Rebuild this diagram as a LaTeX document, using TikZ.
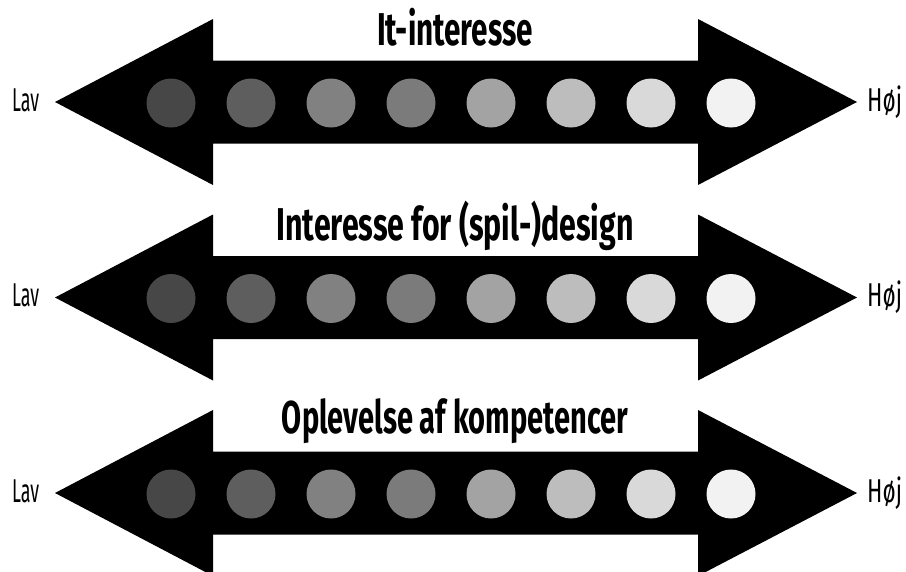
\documentclass[tikz,border=0pt]{standalone}
\usepackage{fontspec}
\usepackage{graphicx}
\setmainfont{Fira Sans}

% condensed text: natural height, fixed width
\newcommand{\narrowtext}[2]{\resizebox{#1}{\height}{#2}}

\definecolor{dotA}{HTML}{474747}
\definecolor{dotB}{HTML}{5E5E5E}
\definecolor{dotC}{HTML}{818181}
\definecolor{dotD}{HTML}{7B7B7B}
\definecolor{dotE}{HTML}{A3A3A3}
\definecolor{dotF}{HTML}{BDBDBD}
\definecolor{dotG}{HTML}{D9D9D9}
\definecolor{dotH}{HTML}{F2F2F2}

\tikzset{
  bigarrow/.style={fill=black, draw=none},
  dot/.style={circle, draw=none, minimum size=49pt, inner sep=0pt},
  heading/.style={font=\fontsize{46}{46}\bfseries\selectfont, inner sep=0pt, anchor=base},
  endlabel/.style={font=\fontsize{33}{33}\selectfont, inner sep=0pt, anchor=base west},
}

\begin{document}
\begin{tikzpicture}[x=1pt, y=-1pt]
  \useasboundingbox (0,0) rectangle (906,571);
  \clip (0,0) rectangle (906,571);
  \fill[white] (0,0) rectangle (906,571);

  \foreach \ty/\by/\txt/\w [count=\r] in {
      102/45/It-interesse/156pt,
      297.5/240.5/Interesse for (spil-)design/357pt,
      493/433/Oplevelse af kompetencer/346pt} {
    % double-headed arrow
    \fill[bigarrow] (55,\ty) -- (213,\ty-83) -- (213,\ty-41.5) -- (698,\ty-41.5)
      -- (698,\ty-83) -- (857,\ty) -- (698,\ty+83) -- (698,\ty+41.5)
      -- (213,\ty+41.5) -- (213,\ty+83) -- cycle;
    % scale dots, dark to light
    \foreach \c [count=\k from 0] in {dotA,dotB,dotC,dotD,dotE,dotF,dotG,dotH}
      \node[dot, fill=\c] (dot-\r-\k) at (171+80*\k, \ty+1) {};
    % heading and end labels
    \node[heading] (title-\r) at (455,\by) {\narrowtext{\w}{\txt}};
    \node[endlabel] (low-\r) at (12,\ty+9) {\narrowtext{27pt}{Lav}};
    \node[endlabel] (high-\r) at (867,\ty+9) {\narrowtext{35pt}{Høj}};
  }
\end{tikzpicture}
\end{document}
